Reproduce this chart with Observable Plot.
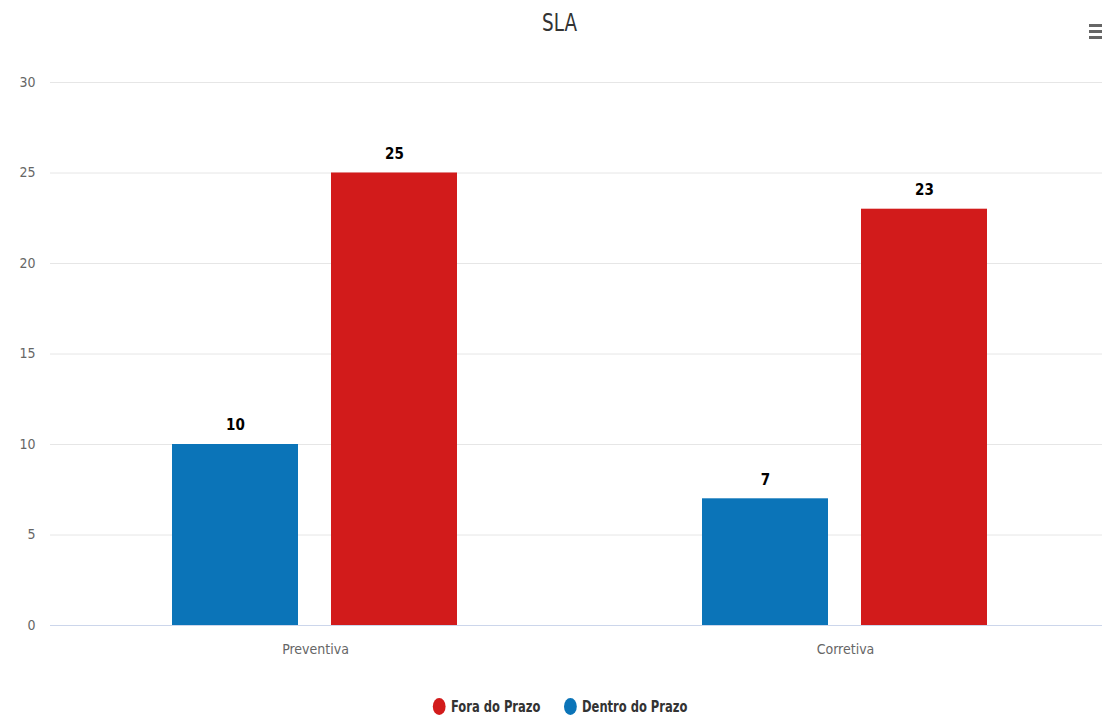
<!DOCTYPE html>
<html>
<head>
<meta charset="utf-8">
<script src="https://cdn.jsdelivr.net/npm/d3@7"></script>
<script src="https://cdn.jsdelivr.net/npm/@observablehq/plot@0.6"></script>
<style>
  html, body { margin: 0; padding: 0; background: #fff; overflow: hidden; }
  #wrap { position: relative; width: 1120px; font-family: 'Liberation Sans Narrow', 'DejaVu Sans Condensed', 'Roboto', sans-serif; }
  #title { height: 44px; line-height: 46px; text-align: center; font-size: 24px; color: #333; }
  #title span { display: inline-block; transform: scaleX(0.85); }
  #menu { position: absolute; left: 1089px; top: 24px; width: 13px; }
  #menu div { height: 3px; background: #666; margin-bottom: 3px; }
  #legend { height: 44px; margin-top: 10px; display: flex; justify-content: center; align-items: center; gap: 29px; font-size: 16px; font-weight: bold; color: #333; transform: scaleX(0.8); transform-origin: 560px 50%; }
  .item { display: flex; align-items: center; gap: 7px; }
  .dot { width: 16px; height: 17px; border-radius: 50%; display: inline-block; }
</style>
</head>
<body>
<div id="wrap">
  <div id="title"><span>SLA</span></div>
  <div id="menu"><div></div><div></div><div></div></div>
  <div id="chart"></div>
  <div id="legend"></div>
</div>
<script>
const categories = ["Preventiva", "Corretiva"];
const series = ["Dentro do Prazo", "Fora do Prazo"];
const dentroValues = [10, 7];
const foraValues = [25, 23];
const yTicks = [0, 5, 10, 15, 20, 25, 30];
const colors = ["#0b74b8", "#d21b1b"];
const legendOrder = ["Fora do Prazo", "Dentro do Prazo"];

const rows = [];
categories.forEach((c, i) => {
  rows.push({category: c, series: series[0], value: dentroValues[i]});
  rows.push({category: c, series: series[1], value: foraValues[i]});
});

const font = "'Liberation Sans Narrow', 'DejaVu Sans Condensed', 'Roboto', sans-serif";

const chart = Plot.plot({
  width: 1110,
  height: 630,
  marginTop: 38,
  marginLeft: 50,
  marginRight: 0,
  marginBottom: 49,
  style: {fontFamily: font, background: "white"},
  fx: {domain: categories, padding: 0, label: null},
  x: {domain: series, paddingInner: 0.2075, paddingOuter: 0.77, axis: null},
  y: {domain: [0, 30], label: null},
  color: {domain: series, range: colors},
  marks: [
    Plot.gridY(yTicks, {stroke: "#e6e6e6", strokeOpacity: 1}),
    Plot.axisY(yTicks, {tickSize: 0, tickPadding: 15, fontSize: 14, fill: "#666", label: null}),
    Plot.axisFx({anchor: "bottom", tickSize: 0, tickPadding: 19, fontSize: 14, fill: "#666", label: null}),
    Plot.barY(rows, {fx: "category", x: "series", y: "value", fill: "series"}),
    Plot.ruleY([0], {stroke: "#ccd6eb", strokeWidth: 1}),
    Plot.text(rows, {fx: "category", x: "series", y: "value", text: d => String(d.value), dy: -19,
      fontSize: 15, fontWeight: "bold", fill: "#000", stroke: "white", strokeWidth: 2, paintOrder: "stroke"})
  ]
});
document.getElementById("chart").appendChild(chart);

const legend = document.getElementById("legend");
legendOrder.forEach(s => {
  const item = document.createElement("div");
  item.className = "item";
  const dot = document.createElement("span");
  dot.className = "dot";
  dot.style.background = colors[series.indexOf(s)];
  const label = document.createElement("span");
  label.textContent = s;
  item.appendChild(dot);
  item.appendChild(label);
  legend.appendChild(item);
});
</script>
</body>
</html>
